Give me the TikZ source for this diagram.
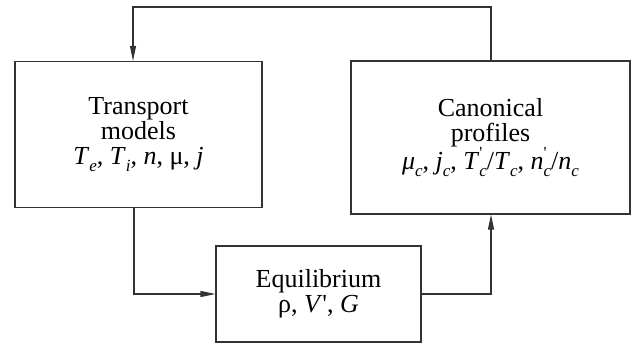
\documentclass[tikz,border=0pt]{standalone}
\usepackage{fontspec}
\setmainfont{LiberationSerif}[Extension=.ttf, UprightFont=*-Regular, ItalicFont=*-Italic, BoldFont=*-Bold]
\usetikzlibrary{arrows.meta}
% subscript, and a prime stacked over a subscript
\newcommand{\lo}[1]{\raisebox{-0.28em}{\fontsize{17}{17}\selectfont\itshape #1}}
\newcommand{\primelo}[1]{\rlap{\raisebox{0.42em}{\fontsize{17}{17}\selectfont\textquotesingle}}\raisebox{-0.28em}{\fontsize{17}{17}\selectfont\itshape #1}}
\begin{document}
\begin{tikzpicture}[x=1pt,y=-1pt,
  blk/.style={draw=black!80, line width=1.1pt, rectangle, align=center, inner sep=0pt,
    font=\rmfamily\fontsize{26}{25}\selectfont},
  link/.style={draw=black!80, line width=1.1pt, -{Triangle[length=15pt,width=6pt]}}]
\useasboundingbox (0,0) rectangle (632,343);
\node[blk, minimum width=247pt, minimum height=146pt] (trans) at (138.5,134.5)
  {Transport\\models\\\textit{T}\lo{e}, \textit{T}\lo{i}, \textit{n}, μ, \textit{j}};
\node[blk, minimum width=279pt, minimum height=153pt] (canon) at (490.5,137.5)
  {Canonical\\profiles\\\textit{μ}\lo{c}, \textit{j}\lo{c}, \textit{T}\primelo{c}/\textit{T}\lo{c}, \textit{n}\primelo{c}/\textit{n}\lo{c}};
\node[blk, minimum width=205pt, minimum height=96pt] (equil) at (318.5,294)
  {Equilibrium\\ρ, \textit{V}\textquotesingle, \textit{G}};
\coordinate (tr) at (491,7);
\coordinate (tl) at (133,7);
\coordinate (bl) at (134,294);
\coordinate (br) at (491,294);
\draw[link] (tr |- canon.north) -- (tr) -- (tl) -- (tl |- trans.north);
\draw[link] (bl |- trans.south) -- (bl) -- (equil.west);
\draw[link] (equil.east) -- (br) -- (br |- canon.south);
\end{tikzpicture}
\end{document}
